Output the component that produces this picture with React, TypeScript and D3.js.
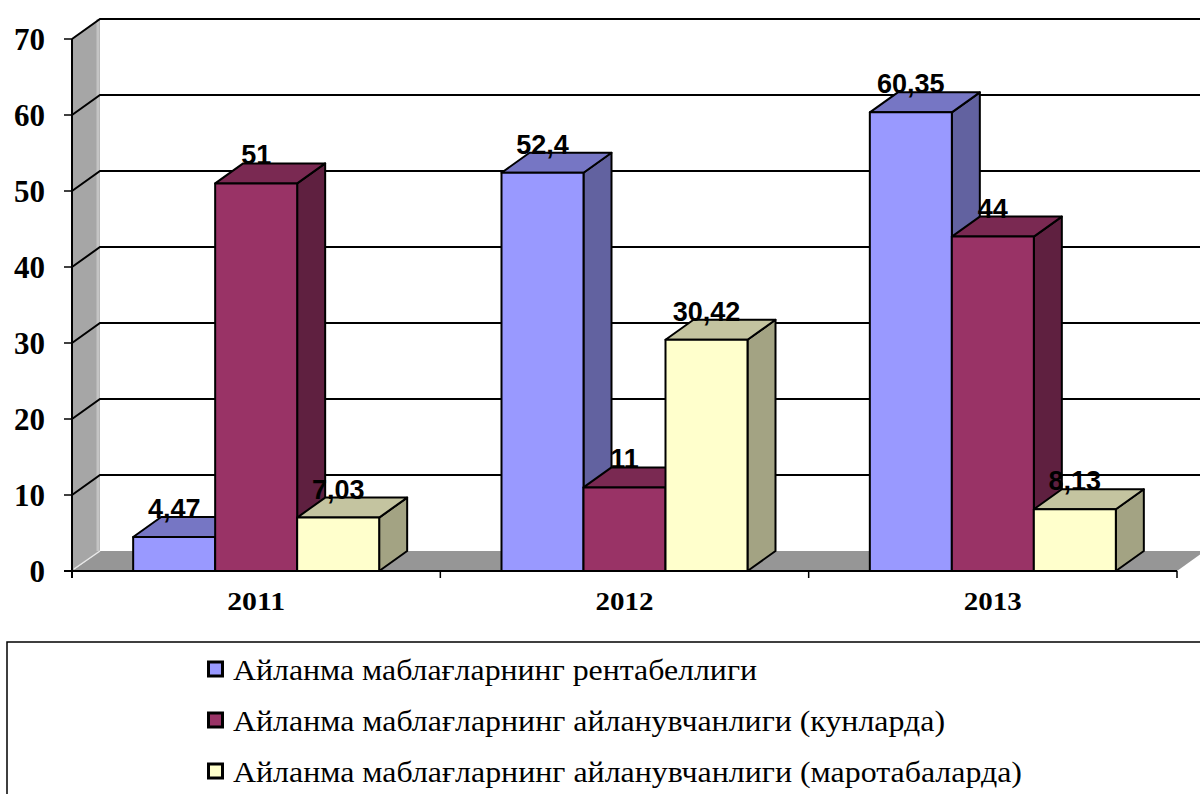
import React from "react";
import * as d3 from "d3";

const years = ["2011", "2012", "2013"];
const seriesNames = [
  "Айланма маблағларнинг рентабеллиги",
  "Айланма маблағларнинг айланувчанлиги (кунларда)",
  "Айланма маблағларнинг айланувчанлиги (маротабаларда)",
];
const rentability = [4.47, 52.4, 60.35];
const turnoverDays = [51, 11, 44];
const turnoverTimes = [7.03, 30.42, 8.13];
const valueLabels = [
  ["4,47", "52,4", "60,35"],
  ["51", "11", "44"],
  ["7,03", "30,42", "8,13"],
];
const yTicks = [0, 10, 20, 30, 40, 50, 60, 70];

const seriesValues = [rentability, turnoverDays, turnoverTimes];
const faceColors = [
  { front: "#9999FF", top: "#7676C4", side: "#6262A0" },
  { front: "#993366", top: "#7A2952", side: "#5F2040" },
  { front: "#FFFFCC", top: "#C4C4A0", side: "#A3A383" },
];
const legendWidths = [524, 712, 789];

const W = 1200;
const H = 794;
const DX = 28;
const DY = -20;
const X0 = 72;
const X1 = 1177;
const Y0 = 571;
const Y70 = 39;
const BAR_W = 82;

export default function App() {
  const y = d3.scaleLinear().domain([0, 70]).range([Y0, Y70]);
  const x = d3.scaleBand<string>().domain(years).range([X0, X1]).padding(0);
  const inner = d3
    .scaleBand<number>()
    .domain([0, 1, 2])
    .range([-1.5 * BAR_W, 1.5 * BAR_W])
    .padding(0);

  const pts = (arr: number[][]) => arr.map((p) => p.join(",")).join(" ");

  const bars: JSX.Element[] = [];
  const labels: JSX.Element[] = [];
  years.forEach((yr, ci) => {
    const cx = (x(yr) as number) + x.bandwidth() / 2;
    seriesValues.forEach((vals, si) => {
      const v = vals[ci];
      const xl = cx + (inner(si) as number);
      const xr = xl + BAR_W;
      const yt = y(v);
      const yb = y(0);
      const c = faceColors[si];
      bars.push(
        <g key={`b-${ci}-${si}`} stroke="#000" strokeWidth={2} strokeLinejoin="round">
          <polygon
            points={pts([[xr, yt], [xr + DX, yt + DY], [xr + DX, yb + DY], [xr, yb]])}
            fill={c.side}
          />
          <polygon
            points={pts([[xl, yt], [xl + DX, yt + DY], [xr + DX, yt + DY], [xr, yt]])}
            fill={c.top}
          />
          <rect x={xl} y={yt} width={BAR_W} height={yb - yt} fill={c.front} />
        </g>
      );
      labels.push(
        <text
          key={`l-${ci}-${si}`}
          x={xl + BAR_W / 2}
          y={yt - 19}
          textAnchor="middle"
          fontFamily="'Liberation Sans', Arial, sans-serif"
          fontWeight="bold"
          fontSize={27}
          fill="#000"
        >
          {valueLabels[si][ci]}
        </text>
      );
    });
  });

  return (
    <svg
      width={W}
      height={H}
      style={{ position: "absolute", left: 0, top: 0, background: "#fff" }}
    >
      {/* floor */}
      <polygon
        points={pts([[X0, Y0], [X1, Y0], [X1 + DX, Y0 + DY], [X0 + DX, Y0 + DY]])}
        fill="#969696"
      />
      {/* left wall */}
      <polygon
        points={pts([[X0, Y0], [X0, Y70], [X0 + DX, Y70 + DY], [X0 + DX, Y0 + DY]])}
        fill="#A6A6A6"
      />
      <line
        x1={X0 + DX - 2}
        x2={X0 + DX - 2}
        y1={Y70 + DY}
        y2={Y0 + DY}
        stroke="#C4C4C4"
        strokeWidth={3}
      />
      <line
        x1={X0 + 2}
        y1={Y0 - 2}
        x2={X0 + DX}
        y2={Y0 + DY}
        stroke="#E8E8E8"
        strokeWidth={1.5}
      />
      {/* gridlines */}
      {yTicks.slice(1).map((t) => (
        <g key={`g-${t}`} stroke="#000" strokeWidth={2} fill="none">
          <polyline
            points={pts([[X0, y(t)], [X0 + DX, y(t) + DY], [X1 + DX, y(t) + DY]])}
          />
        </g>
      ))}
      {/* axes */}
      <line x1={X0} x2={X0} y1={Y70} y2={Y0 + 7} stroke="#000" strokeWidth={2} />
      <line x1={X0 - 8} x2={X1} y1={Y0} y2={Y0} stroke="#000" strokeWidth={2} />
      {yTicks.map((t) => (
        <line key={`yt-${t}`} x1={X0 - 8} x2={X0} y1={y(t)} y2={y(t)} stroke="#000" strokeWidth={1.5} />
      ))}
      {[...years.map((yr) => x(yr) as number), X1].map((px, i) => (
        <line key={`xt-${i}`} x1={px} x2={px} y1={Y0} y2={Y0 + 7} stroke="#000" strokeWidth={1.5} />
      ))}
      {yTicks.map((t) => (
        <text
          key={`yl-${t}`}
          x={45}
          y={y(t)}
          dy="0.36em"
          textAnchor="end"
          fontFamily="'Liberation Serif', 'Times New Roman', serif"
          fontWeight="bold"
          fontSize={31}
        >
          {t}
        </text>
      ))}
      {years.map((yr) => (
        <text
          key={`xl-${yr}`}
          x={(x(yr) as number) + x.bandwidth() / 2}
          y={610}
          textAnchor="middle"
          fontFamily="'Liberation Serif', 'Times New Roman', serif"
          fontWeight="bold"
          fontSize={25}
          textLength={58}
          lengthAdjust="spacingAndGlyphs"
        >
          {yr}
        </text>
      ))}
      {bars}
      {labels}
      {/* legend */}
      <rect x={7} y={642} width={1250} height={200} fill="#fff" stroke="#000" strokeWidth={1.5} />
      {seriesNames.map((name, i) => (
        <g key={`lg-${i}`}>
          <rect
            x={208.5}
            y={662 + i * 51}
            width={14}
            height={14}
            fill={faceColors[i].front}
            stroke="#000"
            strokeWidth={3}
          />
          <text
            x={233}
            y={680 + i * 51}
            fontFamily="'Liberation Serif', 'Times New Roman', serif"
            fontSize={30}
            textLength={legendWidths[i]}
            lengthAdjust="spacingAndGlyphs"
          >
            {name}
          </text>
        </g>
      ))}
    </svg>
  );
}
